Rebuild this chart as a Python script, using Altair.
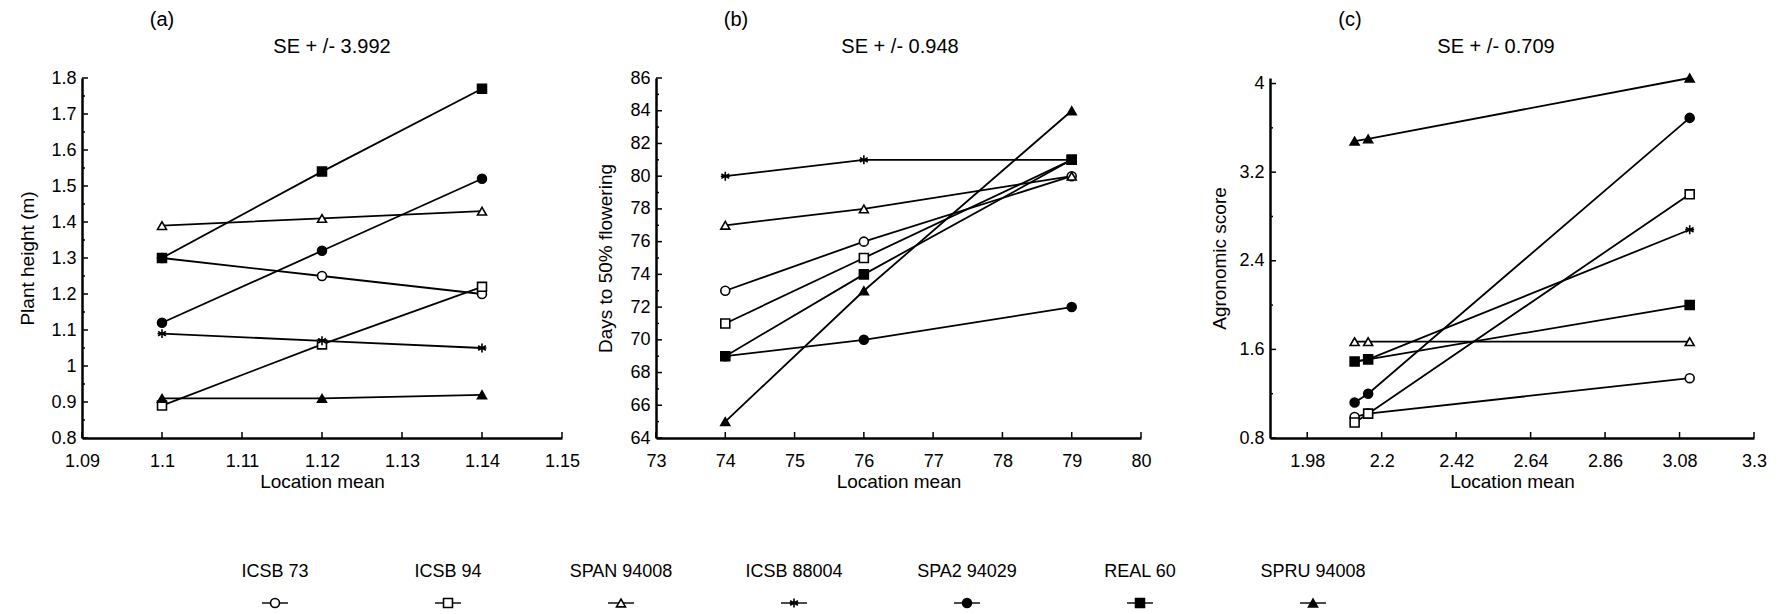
import altair as alt
import pandas as pd

# ---------------- data ----------------
series = ["ICSB 73", "ICSB 94", "SPAN 94008", "ICSB 88004", "SPA2 94029", "REAL 60", "SPRU 94008"]
STAR = "M0,-1L0,1M-0.87,-0.5L0.87,0.5M-0.87,0.5L0.87,-0.5M-1,0L1,0"
shapes = ["circle", "square", "triangle-up", STAR, "circle", "square", "triangle-up"]
fills = ["white", "white", "white", "white", "black", "black", "black"]

panel_tags = ["(a)", "(b)", "(c)"]
se_values = ["3.992", "0.948", "0.709"]

# (a) plant height
a_x = [1.10, 1.12, 1.14]
a_y = [
    [1.30, 1.25, 1.20],  # ICSB 73
    [0.89, 1.06, 1.22],  # ICSB 94
    [1.39, 1.41, 1.43],  # SPAN 94008
    [1.09, 1.07, 1.05],  # ICSB 88004
    [1.12, 1.32, 1.52],  # SPA2 94029
    [1.30, 1.54, 1.77],  # REAL 60
    [0.91, 0.91, 0.92],  # SPRU 94008
]
a_xticks = [1.09, 1.10, 1.11, 1.12, 1.13, 1.14, 1.15]
a_yticks = [0.8, 0.9, 1.0, 1.1, 1.2, 1.3, 1.4, 1.5, 1.6, 1.7, 1.8]
a_yminor = [0.85, 0.95, 1.05, 1.15, 1.25, 1.35, 1.45, 1.55, 1.65, 1.75]

# (b) days to 50% flowering
b_x = [74, 76, 79]
b_y = [
    [73, 76, 80],
    [71, 75, 81],
    [77, 78, 80],
    [80, 81, 81],
    [69, 70, 72],
    [69, 74, 81],
    [65, 73, 84],
]
b_xticks = [73, 74, 75, 76, 77, 78, 79, 80]
b_yticks = [64, 66, 68, 70, 72, 74, 76, 78, 80, 82, 84, 86]
b_yminor = [65, 67, 69, 71, 73, 75, 77, 79, 81, 83, 85]

# (c) agronomic score
c_x = [2.12, 2.16, 3.11]
c_y = [
    [0.99, 1.02, 1.34],
    [0.94, 1.02, 3.00],
    [1.67, 1.67, 1.67],
    [1.49, 1.51, 2.68],
    [1.12, 1.20, 3.69],
    [1.49, 1.51, 2.00],
    [3.48, 3.50, 4.05],
]
c_xticks = [1.98, 2.2, 2.42, 2.64, 2.86, 3.08, 3.3]
c_yticks = [0.8, 1.6, 2.4, 3.2, 4.0]
c_yminor = [1.2, 2.0, 2.8, 3.6]

FONT = "Liberation Sans"
H = 360


def panel(tag, se, xs, ys, xdom, xticks, ydom, yticks, yminor, ytitle, width, se_x, title_x):
    rows = []
    for s, vals in zip(series, ys):
        for xv, yv in zip(xs, vals):
            rows.append({"series": s, "x": xv, "y": yv})
    df = pd.DataFrame(rows)

    X = alt.X("x:Q", scale=alt.Scale(domain=xdom, nice=False, zero=False),
              axis=alt.Axis(values=xticks, format=".2~f", title="Location mean",
                            labelPadding=14, titlePadding=2, labelFlush=False))
    Y = alt.Y("y:Q", scale=alt.Scale(domain=ydom, nice=False, zero=False),
              axis=alt.Axis(values=yticks, format=".2~f", title=ytitle,
                            labelPadding=6, labelFlush=False, titleX=title_x, titleY=H / 2,
                            titleAngle=270, titleAlign="center",
                            titleBaseline="middle"))

    lines = alt.Chart(df).mark_line(color="black", strokeWidth=1.8).encode(
        x=X, y=Y, detail="series:N", order="x:Q")
    pts = alt.Chart(df).mark_point(filled=True, stroke="black", strokeWidth=1.6,
                                   size=80, opacity=1).encode(
        x=X, y=Y,
        shape=alt.Shape("series:N", scale=alt.Scale(domain=series, range=shapes), legend=None),
        fill=alt.Fill("series:N", scale=alt.Scale(domain=series, range=fills), legend=None))

    yt = alt.Chart(pd.DataFrame({"y": yticks})).mark_rule(color="black", strokeWidth=1.5).encode(
        y=Y, x=alt.value(0), x2=alt.value(6))
    ym = alt.Chart(pd.DataFrame({"y": yminor})).mark_rule(color="black", strokeWidth=1.5).encode(
        y=Y, x=alt.value(0), x2=alt.value(3))
    xt = alt.Chart(pd.DataFrame({"x": xticks})).mark_rule(color="black", strokeWidth=1.5).encode(
        x=X, y=alt.value(H), y2=alt.value(H - 6))

    tag_t = alt.Chart(alt.Data(values=[{"t": tag}])).mark_text(
        font=FONT, fontSize=20, color="black", align="center", baseline="middle").encode(
        text="t:N", x=alt.value(80), y=alt.value(-58))
    se_t = alt.Chart(alt.Data(values=[{"t": "SE + /- " + se}])).mark_text(
        font=FONT, fontSize=20, color="black", align="center", baseline="middle").encode(
        text="t:N", x=alt.value(se_x), y=alt.value(-31))

    return alt.layer(lines, pts, yt, ym, xt, tag_t, se_t).properties(width=width, height=H)


pa = panel(panel_tags[0], se_values[0], a_x, a_y, [1.09, 1.15], a_xticks, [0.8, 1.8], a_yticks,
           a_yminor, "Plant height (m)", 480, 250, -55)
pb = panel(panel_tags[1], se_values[1], b_x, b_y, [73, 80], b_xticks, [64, 86], b_yticks,
           b_yminor, "Days to 50% flowering", 485, 244, -51)
pc = panel(panel_tags[2], se_values[2], c_x, c_y, [1.87, 3.3], c_xticks, [0.8, 4.05], c_yticks,
           c_yminor, "Agronomic score", 484, 226, -51)

# ---------------- legend ----------------
leg_df = pd.DataFrame({"series": series})
LX = alt.X("series:N", sort=series,
           scale=alt.Scale(type="point", range=[193, 1231], padding=0), axis=None)
leg_text = alt.Chart(leg_df).mark_text(font=FONT, fontSize=18, color="black",
                                       baseline="middle").encode(
    x=LX, y=alt.value(8), text="series:N")
leg_line = alt.Chart(leg_df).mark_tick(orient="horizontal", size=26, thickness=2,
                                       color="black").encode(x=LX, y=alt.value(39))
leg_pts = alt.Chart(leg_df).mark_point(filled=True, stroke="black", strokeWidth=1.6,
                                       size=80, opacity=1).encode(
    x=LX, y=alt.value(39),
    shape=alt.Shape("series:N", scale=alt.Scale(domain=series, range=shapes), legend=None),
    fill=alt.Fill("series:N", scale=alt.Scale(domain=series, range=fills), legend=None))
legend = alt.layer(leg_text, leg_line, leg_pts).properties(width=1300, height=45)

top = alt.hconcat(alt.hconcat(pa, pb, spacing=16), pc, spacing=58)
chart = alt.vconcat(top, legend, spacing=72).properties(
    padding={"left": 10, "top": 2, "right": 0, "bottom": 0}
).configure_view(stroke=None).configure_axis(
    domainColor="black", domainWidth=2.5, ticks=False, grid=False,
    labelFont=FONT, labelFontSize=18, labelColor="black",
    titleFont=FONT, titleFontSize=19, titleFontWeight="normal", titleColor="black",
    labelOverlap=False
)

chart.save("out.html", embed_options={"renderer": "svg", "actions": False})
